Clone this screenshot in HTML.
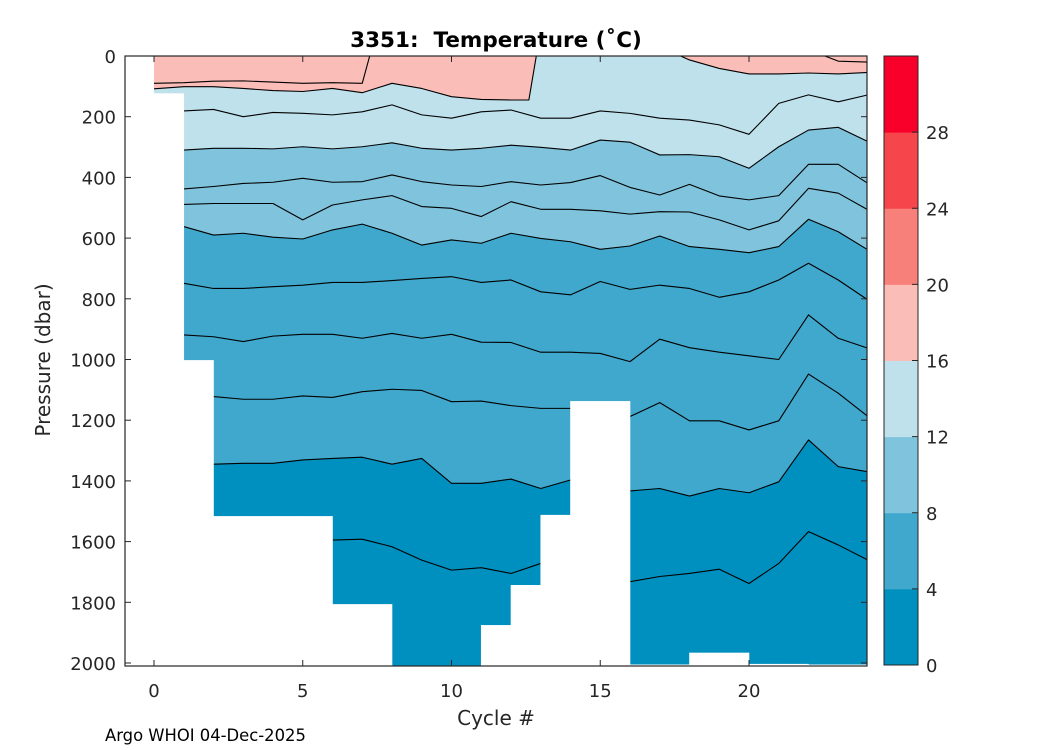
<!DOCTYPE html>
<html><head><meta charset="utf-8"><style>
html,body{margin:0;padding:0;background:#fff;}
svg{display:block;font-family:"DejaVu Sans","Liberation Sans",sans-serif;}
</style></head><body>
<svg id="chart" width="1050" height="750" viewBox="0 0 1050 750">
<g id="plot"></g>
<g id="axes"></g>
<g id="cbar"></g>
<text x="496" y="47" text-anchor="middle" font-size="21.5" font-weight="bold" fill="#000" style="white-space:pre">3351:  Temperature (˚C)</text>
<text x="496" y="725" text-anchor="middle" font-size="20" fill="#262626">Cycle #</text>
<text transform="translate(50,360) rotate(-90)" text-anchor="middle" font-size="20" fill="#262626">Pressure (dbar)</text>
<text x="105" y="741" font-size="16.4" fill="#000">Argo WHOI 04-Dec-2025</text>
</svg>
<script>
const cycles=[0,1,2,3,4,5,6,7,8,9,10,11,12,13,14,15,16,17,18,19,20,21,22,23,24];
const iso17Cycles=[0,1,2,3,4,5,6,7,7.25,22.55,23,24];
const iso17=[90,88,83,82,86,90,88,90,0,0,17,20];
const iso16Cycles=[0,1,2,3,4,5,6,7,8,9,10,11,12,12.6,12.85,17.7,18,19,20,21,22,23,24];
const iso16=[108,101,101,107,114,117,107,121,90,107,134,143,145,145,0,0,13,41,59,59,56,59,54];
const iso15=[181,181,176,200,186,189,194,184,161,194,205,184,178,205,205,181,189,205,211,227,258,156,128,151,128];
const iso12=[310,310,304,304,306,299,306,299,286,304,310,304,294,301,310,277,284,326,325,332,370,299,244,235,282];
const iso11=[438,438,430,420,416,403,416,414,392,414,425,430,414,425,417,394,433,458,423,461,474,460,357,357,420];
const iso10=[489,489,486,486,486,540,491,474,460,496,502,529,480,505,505,510,521,513,514,540,573,543,436,452,507];
const iso8=[562,562,590,584,597,603,573,554,584,623,606,617,584,601,612,637,626,593,628,637,648,628,538,579,639];
const iso7=[749,749,766,766,760,755,746,746,740,733,727,746,738,777,787,743,769,755,766,795,777,738,683,738,804];
const iso6=[919,919,925,941,923,917,917,930,914,930,917,943,944,976,976,980,1007,933,961,976,988,1000,853,930,963];
const iso5=[1122,1122,1122,1131,1131,1120,1125,1106,1098,1102,1139,1137,1152,1161,1161,1170,1188,1142,1202,1202,1232,1202,1048,1111,1188];
const iso4=[1345,1345,1345,1342,1342,1331,1326,1322,1345,1326,1408,1408,1394,1425,1397,1410,1433,1425,1450,1425,1439,1403,1265,1353,1370];
const iso3=[1595,1595,1595,1595,1595,1595,1595,1592,1617,1661,1694,1686,1705,1672,1690,1710,1732,1715,1705,1691,1738,1672,1567,1611,1661];
const maxDepth=[123,1002,1516,1516,1516,1516,1806,1806,2010,2010,2010,1875,1743,1512,1137,1137,2005,2005,1966,1966,2003,2003,2005,2005];
const xTicks=[0,5,10,15,20];
const yTicks=[0,200,400,600,800,1000,1200,1400,1600,1800,2000];
const cbTicks=[0,4,8,12,16,20,24,28];
const bandColors=["#0090bf","#40a8cc","#80c3dc","#bfe1ec","#fbbdb8","#f8807a","#f6454b","#f80029"];

const NS="http://www.w3.org/2000/svg";
const L=125,R=867,T=56,B=666;
const xs=c=>154+c*29.75;
const ys=p=>56+p*0.3035;
function mk(tag,attrs,parent){const e=document.createElementNS(NS,tag);for(const k in attrs)e.setAttribute(k,attrs[k]);parent.appendChild(e);return e;}
const plot=document.getElementById('plot'),axes=document.getElementById('axes'),cbar=document.getElementById('cbar');

let base=mk('rect',{x:xs(0),y:T,width:xs(24)-xs(0),height:B-T,fill:bandColors[0]},plot);



function areaPath(cs,d){let s='M'+xs(cs[0])+','+T;cs.forEach((c,i)=>{s+=' L'+xs(c)+','+ys(d[i]);});s+=' L'+xs(cs[cs.length-1])+','+T+' Z';return s;}
function linePath(cs,d){return cs.map((c,i)=>(i?'L':'M')+xs(c)+','+ys(d[i])).join(' ');}
const fills=[[cycles,iso4,1,'band-4-8'],[cycles,iso8,2,'band-8-12'],[cycles,iso12,3,'band-12-16'],[iso16Cycles,iso16,4,'band-16-20']];
fills.forEach(f=>{const p=mk('path',{d:areaPath(f[0],f[1]),fill:bandColors[f[2]]},plot);

});
const lines=[[cycles,iso3,'3'],[cycles,iso4,'4'],[cycles,iso5,'5'],[cycles,iso6,'6'],[cycles,iso7,'7'],[cycles,iso8,'8'],[cycles,iso10,'10'],[cycles,iso11,'11'],[cycles,iso12,'12'],[cycles,iso15,'15'],[iso16Cycles,iso16,'16'],[iso17Cycles,iso17,'17']];
lines.forEach(l=>{const p=mk('path',{d:linePath(l[0],l[1]),fill:'none',stroke:'#000','stroke-width':1.1,'stroke-linejoin':'round'},plot);

});
let m0=mk('rect',{x:L,y:T,width:xs(0)-L,height:B-T,fill:'#fff'},plot);


maxDepth.forEach((d,i)=>{const yy=Math.min(ys(d),B);if(yy<B){const r=mk('rect',{x:xs(i)-0.3,y:yy,width:xs(i+1)-xs(i)+0.6,height:B-yy,fill:'#fff'},plot);

}});
mk('rect',{x:L,y:0,width:R-L+8,height:T,fill:'#fff'},plot);
mk('rect',{x:R,y:T,width:10,height:B-T,fill:'#fff'},plot);

let fr=mk('rect',{x:L,y:T,width:R-L,height:B-T,fill:'none',stroke:'#262626','stroke-width':1.2},axes);


xTicks.forEach(t=>{const x=xs(t);
mk('line',{x1:x,y1:B,x2:x,y2:B-6,stroke:'#262626'},axes);
mk('line',{x1:x,y1:T,x2:x,y2:T+6,stroke:'#262626'},axes);
const tx=mk('text',{x:x,y:697,'text-anchor':'middle','font-size':18,fill:'#262626'},axes);tx.textContent=t;

});
yTicks.forEach(t=>{const y=ys(t);
mk('line',{x1:L,y1:y,x2:L+6,y2:y,stroke:'#262626'},axes);
mk('line',{x1:R,y1:y,x2:R-6,y2:y,stroke:'#262626'},axes);
const tx=mk('text',{x:116,y:y+7,'text-anchor':'end','font-size':18,fill:'#262626'},axes);tx.textContent=t;

});

const cx0=884,cx1=918,cyT=56,cyB=665,cmax=32;
const cy=v=>cyB-(v/cmax)*(cyB-cyT);
bandColors.forEach((c,i)=>{const r=mk('rect',{x:cx0,y:cy((i+1)*4),width:cx1-cx0,height:cy(i*4)-cy((i+1)*4)+0.5,fill:c},cbar);

});
mk('rect',{x:cx0,y:cyT,width:cx1-cx0,height:cyB-cyT,fill:'none',stroke:'#262626','stroke-width':1},cbar);
cbTicks.forEach(t=>{const y=cy(t);
mk('line',{x1:cx1,y1:y,x2:cx1-6,y2:y,stroke:'#262626'},cbar);
const tx=mk('text',{x:926,y:y+7,'font-size':18,fill:'#262626'},cbar);tx.textContent=t;

});
</script>
</body></html>
